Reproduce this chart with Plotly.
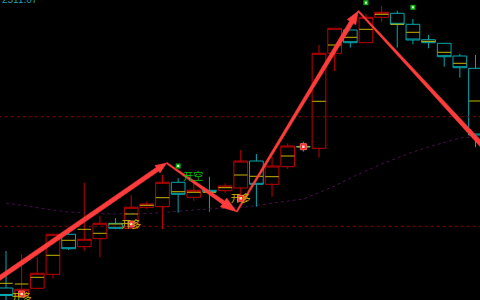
import math
import plotly.graph_objects as go

# ---------------- data (price units: chart value) ----------------
idx = list(range(31))
opens  = [12, 4.7, 11.7, 25.7, 65.7, 53.3, 61.3, 76.7, 71.7, 92.7,
          93.3, 117.7, 102.7, 109.7, 109.3, 112, 139, 115.7, 133.3, 153.6,
          151.7, 246.7, 270, 257.3, 282.7, 286.7, 275.7, 260.3, 256.7, 244, 231.7]
highs  = [49, 45.7, 42.7, 65.7, 72.3, 117.3, 84.3, 82, 105, 98.3,
          125, 121.7, 117, 123.3, 116.7, 150, 146, 143.3, 156.7, 158.3,
          255, 271.7, 270, 286, 294, 289.3, 281, 265, 256.7, 246, 245]
lows   = [-5, 2, 11.7, 21.7, 50, 49.3, 42.7, 70.7, 71.7, 91,
          70.7, 87.3, 99.3, 88.3, 107.3, 103.3, 93.3, 103.3, 131, 148.3,
          142.3, 229, 252.3, 257.3, 278.3, 252.3, 255.7, 251.7, 233.3, 222.3, 152.7]
closes = [4.5, 10.7, 26.7, 65.7, 51.3, 60.7, 76.7, 71.7, 92.7, 96,
          117.7, 105.7, 109.7, 108.7, 114, 139, 115.7, 134, 154, 153.2,
          246.7, 271.7, 257.3, 282.7, 287.7, 275.7, 260, 257.3, 243.3, 232.3, 165]
mids   = [16.7, 16, 22.7, 44.7, 59.7, 70.7, 66.7, 76, 86, 94.7,
          102.3, 108.3, 107.7, 107.7, 112.3, 125, 123.7, 123.3, 144, 153.2,
          198.7, 255, 262.7, 270.7, 285.7, 275.7, 267.7, 258.7, 247.7, 236.7, 199]
ma     = [97, 94.5, 92, 90, 88, 87, 86.5, 86, 86, 86.5,
          87.5, 89, 90, 91, 91.5, 92.5, 94.5, 97, 99, 101,
          107.5, 114, 122, 129, 136, 142, 148, 153, 157.5, 162, 163.5]
levels = [183.3, 73.7]

long_x = [1, 8, 15, 19]
long_y = [6, 76, 101.7, 153.3]
long_label_x = [1, 8, 15]
long_label_y = [2, 74.5, 100.5]
short_x = [11, 23, 26]
short_y = [134, 297.3, 292.7]
short_label_x = [11.97]
short_label_y = [122.3]

arrow_x0 = [-1.02, 10.26, 14.74, 22.51]
arrow_y0 = [15.4, 137, 88.3, 289]
arrow_x1 = [10.26, 14.74, 22.51, 31.57]
arrow_y1 = [137, 88.3, 289, 135.3]

top_label = "2511.07"

# ---------------- styling / geometry ----------------
PX_PER_X = 15.65
X0_PX = 6.0
H = 300
arrow_w0 = [4.5, 1.5, 1.5, 1.5]
arrow_w1 = [4.5, 4.0, 4.5, 5.0]
arrow_hl = [11, 16, 13, 14]
arrow_hw = [9, 11, 10, 10]

def to_px(x, y):
    return X0_PX + PX_PER_X * x, H - y

def to_data(px, py):
    return (px - X0_PX) / PX_PER_X, H - py

RED = "#c00000"
CYAN = "#00a8b0"
YEL = "#c8b400"

fig = go.Figure()

# dotted level lines
for lv in levels:
    fig.add_trace(go.Scatter(x=[-2, 32], y=[lv, lv], mode="lines",
                             line=dict(color="#8a0000", width=1, dash="dot"),
                             hoverinfo="skip"))

# moving average
fig.add_trace(go.Scatter(x=idx, y=ma, mode="lines",
                         line=dict(color="#4a0d4a", width=1, dash="dot"),
                         hoverinfo="skip"))

fig.add_trace(go.Candlestick(
    x=idx, open=opens, high=highs, low=lows, close=closes,
    increasing=dict(line=dict(color=RED, width=1), fillcolor="black"),
    decreasing=dict(line=dict(color=CYAN, width=1), fillcolor="black"),
    whiskerwidth=0, hoverinfo="skip"))

# yellow mid lines
yx, yy = [], []
for i, m in zip(idx, mids):
    yx += [i - 0.43, i + 0.43, None]
    yy += [m, m, None]
fig.add_trace(go.Scatter(x=yx, y=yy, mode="lines",
                         line=dict(color=YEL, width=1), hoverinfo="skip"))

# arrows as tapered polygons
ax, ay = [], []
for k in range(len(arrow_x0)):
    p0 = to_px(arrow_x0[k], arrow_y0[k])
    p1 = to_px(arrow_x1[k], arrow_y1[k])
    dx, dy = p1[0] - p0[0], p1[1] - p0[1]
    L = math.hypot(dx, dy)
    ux, uy = dx / L, dy / L
    nx, ny = -uy, ux
    se = (p1[0] - ux * arrow_hl[k], p1[1] - uy * arrow_hl[k])
    w0, w1, hw = arrow_w0[k] / 2, arrow_w1[k] / 2, arrow_hw[k] / 2
    pts = [(p0[0] + nx * w0, p0[1] + ny * w0),
           (se[0] + nx * w1, se[1] + ny * w1),
           (se[0] + nx * hw, se[1] + ny * hw),
           p1,
           (se[0] - nx * hw, se[1] - ny * hw),
           (se[0] - nx * w1, se[1] - ny * w1),
           (p0[0] - nx * w0, p0[1] - ny * w0),
           (p0[0] + nx * w0, p0[1] + ny * w0)]
    for px, py in pts:
        X, Y = to_data(px, py)
        ax.append(X)
        ay.append(Y)
    ax.append(None)
    ay.append(None)
fig.add_trace(go.Scatter(x=ax, y=ay, mode="lines", fill="toself",
                         fillcolor="#ff3c3c", line=dict(color="#ff3c3c", width=0.5),
                         hoverinfo="skip"))

# signal markers
fig.add_trace(go.Scatter(x=long_x, y=long_y, mode="markers",
                         marker=dict(symbol="square", size=6, color="#ff2020",
                                     line=dict(color="#ff6060", width=1)),
                         hoverinfo="skip"))
fig.add_trace(go.Scatter(x=long_x, y=long_y, mode="markers",
                         marker=dict(symbol="square", size=2.5, color="#ffe0e0"),
                         hoverinfo="skip"))
fig.add_trace(go.Scatter(x=short_x, y=short_y, mode="markers",
                         marker=dict(symbol="square", size=5, color="#10b010"),
                         hoverinfo="skip"))
fig.add_trace(go.Scatter(x=short_x, y=short_y, mode="markers",
                         marker=dict(symbol="square", size=2, color="#e0ffe0"),
                         hoverinfo="skip"))

fig.add_trace(go.Scatter(x=long_label_x, y=long_label_y, mode="text",
                         text=["开多"] * len(long_label_x),
                         textfont=dict(family="Noto Sans CJK SC", size=10, color=YEL),
                         hoverinfo="skip"))
fig.add_trace(go.Scatter(x=short_label_x, y=short_label_y, mode="text",
                         text=["开空"] * len(short_label_x),
                         textfont=dict(family="Noto Sans CJK SC", size=10, color="#00c000"),
                         hoverinfo="skip"))

xr0, _ = to_data(0, 0)
xr1, _ = to_data(480, 0)

fig.add_annotation(text=top_label, xref="paper", yref="paper", x=0, y=1,
                   xanchor="left", yanchor="middle", yshift=1, showarrow=False,
                   font=dict(family="Liberation Sans", size=10, color="#20a0a8"))

fig.update_layout(
    width=480, height=300, margin=dict(l=0, r=0, t=0, b=0),
    paper_bgcolor="black", plot_bgcolor="black",
    showlegend=False, boxgap=0.125, boxgroupgap=0,
    xaxis=dict(range=[xr0, xr1], visible=False, rangeslider=dict(visible=False),
               fixedrange=True),
    yaxis=dict(range=[0, 300], visible=False, fixedrange=True),
)

fig.write_html("out.html")
